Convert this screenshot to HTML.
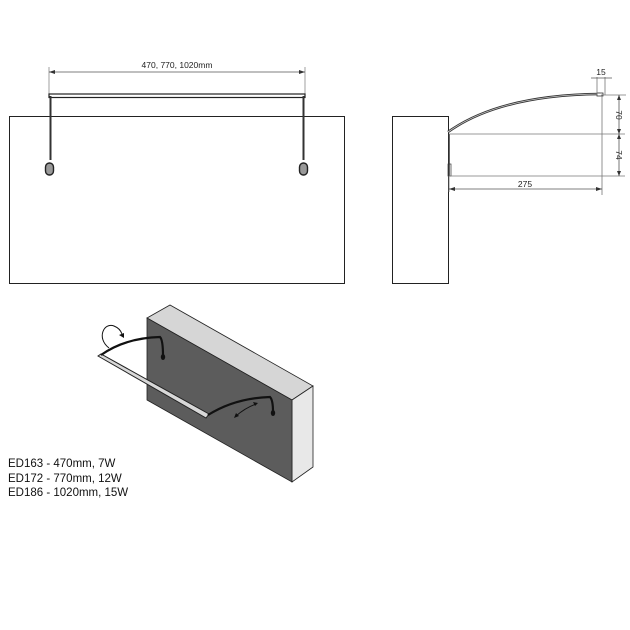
<!DOCTYPE html>
<html><head><style>body{margin:0;background:#fff}svg{display:block}</style></head><body>
<svg width="630" height="630" viewBox="0 0 630 630" xmlns="http://www.w3.org/2000/svg" font-family="Liberation Sans, DejaVu Sans, sans-serif">
<rect width="630" height="630" fill="#fff"/>
<!-- front view -->
<rect x="9.5" y="116.5" width="335" height="167" fill="none" stroke="#222" stroke-width="1"/>
<line x1="49" y1="67" x2="49" y2="95" stroke="#888" stroke-width="0.8"/>
<line x1="305" y1="67" x2="305" y2="95" stroke="#888" stroke-width="0.8"/>
<line x1="49" y1="72" x2="305" y2="72" stroke="#555" stroke-width="0.8"/>
<path d="M49 72 l6 -2 v4z M305 72 l-6 -2 v4z" fill="#333"/>
<text x="177" y="68" font-size="8.5" text-anchor="middle" fill="#222">470, 770, 1020mm</text>
<rect x="49" y="94" width="256" height="3.5" fill="#fff" stroke="#222" stroke-width="1.2"/>
<line x1="50.5" y1="96" x2="50.5" y2="160" stroke="#333" stroke-width="2"/>
<line x1="303.5" y1="96" x2="303.5" y2="160" stroke="#333" stroke-width="2"/>
<rect x="45.5" y="163" width="8" height="12" rx="4" fill="#999" stroke="#222" stroke-width="1.4"/>
<rect x="299.5" y="163" width="8" height="12" rx="4" fill="#999" stroke="#222" stroke-width="1.4"/>
<!-- side view -->
<rect x="392.5" y="116.5" width="56" height="167" fill="none" stroke="#222" stroke-width="1"/>
<path d="M448 132 Q500 95 600 94" fill="none" stroke="#333" stroke-width="2.5"/>
<path d="M448 132 Q500 95 600 94" fill="none" stroke="#ccc" stroke-width="0.8"/>
<rect x="597" y="93" width="6" height="3" fill="#fff" stroke="#333" stroke-width="0.8"/>
<line x1="449" y1="134" x2="449" y2="176" stroke="#333" stroke-width="1.5"/>
<rect x="448" y="164" width="3" height="12" fill="none" stroke="#333" stroke-width="0.7"/>
<line x1="449" y1="134" x2="625" y2="134" stroke="#777" stroke-width="0.8"/>
<line x1="449" y1="176" x2="625" y2="176" stroke="#777" stroke-width="0.8"/>
<line x1="601" y1="95" x2="626" y2="95" stroke="#777" stroke-width="0.8"/>
<line x1="602" y1="95" x2="602" y2="195" stroke="#777" stroke-width="0.8"/>
<line x1="619" y1="95" x2="619" y2="176" stroke="#555" stroke-width="0.8"/>
<path d="M619 95 l-2 5 h4z M619 134 l-2 -5 h4z M619 134 l-2 5 h4z M619 176 l-2 -5 h4z" fill="#333"/>
<text transform="translate(616,115) rotate(90)" font-size="8.5" text-anchor="middle" fill="#222">70</text>
<text transform="translate(616,155) rotate(90)" font-size="8.5" text-anchor="middle" fill="#222">74</text>
<line x1="449" y1="176" x2="449" y2="192" stroke="#777" stroke-width="0.8"/>
<line x1="449" y1="189" x2="602" y2="189" stroke="#555" stroke-width="0.8"/>
<path d="M449 189 l6 -2 v4z M602 189 l-6 -2 v4z" fill="#333"/>
<text x="525" y="187" font-size="8.5" text-anchor="middle" fill="#222">275</text>
<line x1="597" y1="77" x2="597" y2="95" stroke="#777" stroke-width="0.8"/>
<line x1="605" y1="77" x2="605" y2="95" stroke="#777" stroke-width="0.8"/>
<line x1="591" y1="78" x2="612" y2="78" stroke="#555" stroke-width="0.8"/>
<text x="601" y="75" font-size="8.5" text-anchor="middle" fill="#222">15</text>
<!-- iso box -->
<polygon points="147,318 170,305 313,386 292,400" fill="#d6d6d6" stroke="#222" stroke-width="0.8"/>
<polygon points="292,400 313,386 313,467 292,482" fill="#e8e8e8" stroke="#222" stroke-width="0.8"/>
<polygon points="147,318 292,400 292,482 147,400" fill="#5c5c5c" stroke="#222" stroke-width="0.8"/>
<!-- bar -->
<polygon points="98,356 101,354 209,414 206,418" fill="#d8d8d8" stroke="#222" stroke-width="1"/>
<path d="M101 355 Q125 338 160 337 Q163 340 163 356" fill="none" stroke="#111" stroke-width="2.2"/>
<ellipse cx="163" cy="357" rx="2.2" ry="3" fill="#111"/>
<path d="M208 415 Q235 398 270 397 Q273 400 273 412" fill="none" stroke="#111" stroke-width="2.2"/>
<ellipse cx="273" cy="413" rx="2.2" ry="3" fill="#111"/>
<path d="M109 348 C96 338 104 322 114 326 C119 328 121 331 122 334" fill="none" stroke="#111" stroke-width="1"/>
<path d="M124 338 l-5 -3 l5 -2z" fill="#111"/>
<path d="M236 416 Q245 408 256 404" fill="none" stroke="#111" stroke-width="1"/>
<path d="M234 418 l2 -5 l3 3z M258 403 l-5 -1 l2 4z" fill="#111"/>
<!-- text -->
<g font-size="11.5" fill="#111">
<text x="8" y="467">ED163 - 470mm, 7W</text>
<text x="8" y="482">ED172 - 770mm, 12W</text>
<text x="8" y="496">ED186 - 1020mm, 15W</text>
</g>
</svg>
</body></html>
